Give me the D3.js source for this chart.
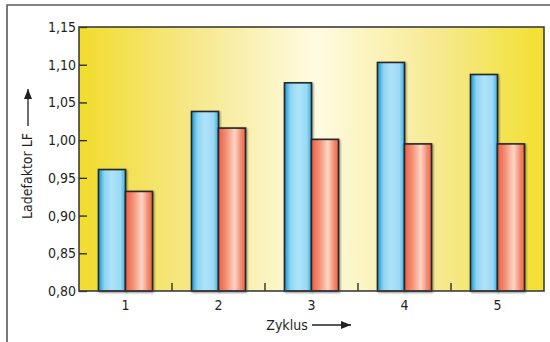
<!DOCTYPE html>
<html>
<head>
<meta charset="utf-8">
<script src="https://cdn.jsdelivr.net/npm/d3@7"></script>
<style>
  html, body { margin: 0; padding: 0; background: #fff; }
  svg text { font-family: "Liberation Sans Narrow", "DejaVu Sans", sans-serif; font-stretch: condensed; fill: #231f20; }
</style>
</head>
<body>
<div id="viz"></div>
<script>
// values
var zyklen = ["1", "2", "3", "4", "5"];
var serien = ["a", "b"];
var werteA = [0.961, 1.038, 1.076, 1.103, 1.087];
var werteB = [0.932, 1.016, 1.001, 0.995, 0.995];
var yTicks = [0.80, 0.85, 0.90, 0.95, 1.00, 1.05, 1.10, 1.15];

var W = 550, H = 342;
var pLeft = 79, pRight = 544, pTop = 27, pBottom = 291;

var de = d3.formatLocale({decimal: ",", thousands: ".", grouping: [3], currency: ["", " €"]});
var fmt = de.format(".2f");

var svg = d3.select("#viz").append("svg")
  .attr("width", W)
  .attr("height", H);

var defs = svg.append("defs");

// background of plot: yellow at the edges, pale in the middle
var bg = defs.append("linearGradient").attr("id", "bg");
bg.append("stop").attr("offset", "0%").attr("stop-color", "#f2dc2c");
bg.append("stop").attr("offset", "25%").attr("stop-color", "#f6e88c");
bg.append("stop").attr("offset", "51%").attr("stop-color", "#fffbe2");
bg.append("stop").attr("offset", "78%").attr("stop-color", "#f6e98e");
bg.append("stop").attr("offset", "100%").attr("stop-color", "#f2e02e");

var gA = defs.append("linearGradient").attr("id", "gA");
gA.append("stop").attr("offset", "0%").attr("stop-color", "#1a95d3");
gA.append("stop").attr("offset", "22%").attr("stop-color", "#8fd5f3");
gA.append("stop").attr("offset", "50%").attr("stop-color", "#ade3f8");
gA.append("stop").attr("offset", "82%").attr("stop-color", "#9bd9f5");
gA.append("stop").attr("offset", "100%").attr("stop-color", "#3aaee2");

var gB = defs.append("linearGradient").attr("id", "gB");
gB.append("stop").attr("offset", "0%").attr("stop-color", "#ec5f45");
gB.append("stop").attr("offset", "30%").attr("stop-color", "#f39378");
gB.append("stop").attr("offset", "60%").attr("stop-color", "#fdd6c6");
gB.append("stop").attr("offset", "85%").attr("stop-color", "#f2876d");
gB.append("stop").attr("offset", "100%").attr("stop-color", "#ec6449");

var shadow = defs.append("filter").attr("id", "sh")
  .attr("x", "-20%").attr("y", "-20%").attr("width", "140%").attr("height", "140%");
shadow.append("feGaussianBlur").attr("in", "SourceAlpha").attr("stdDeviation", 0.8).attr("result", "b");
shadow.append("feOffset").attr("in", "b").attr("dx", 0.5).attr("dy", 0.5).attr("result", "o");
shadow.append("feComponentTransfer").attr("in", "o").attr("result", "o2")
  .append("feFuncA").attr("type", "linear").attr("slope", 0.45);
var mg = shadow.append("feMerge");
mg.append("feMergeNode").attr("in", "o2");
mg.append("feMergeNode").attr("in", "SourceGraphic");

var gray = "#5a5a5a";

// outer frame (top and left only)
svg.append("path")
  .attr("d", "M7," + H + "V5H" + W)
  .attr("fill", "none")
  .attr("stroke", gray)
  .attr("stroke-width", 1.6);

var x = d3.scaleBand().domain(zyklen).range([pLeft, pRight]);
var y = d3.scaleLinear().domain([0.80, 1.15]).range([pBottom, pTop]);
var bw = x.bandwidth();
var x1 = d3.scaleBand().domain(serien).range([bw / 2 - 27, bw / 2 + 27]);

svg.append("rect")
  .attr("x", pLeft).attr("y", pTop)
  .attr("width", pRight - pLeft).attr("height", pBottom - pTop)
  .attr("fill", "url(#bg)");

var data = zyklen.map(function (z, i) {
  return {z: z, werte: [{s: "a", v: werteA[i]}, {s: "b", v: werteB[i]}]};
});

var groups = svg.append("g").selectAll("g")
  .data(data)
  .join("g")
  .attr("transform", function (d) { return "translate(" + x(d.z) + ",0)"; });

groups.selectAll("rect")
  .data(function (d) { return d.werte; })
  .join("rect")
  .attr("x", function (d) { return x1(d.s); })
  .attr("y", function (d) { return y(d.v); })
  .attr("width", x1.bandwidth())
  .attr("height", function (d) { return pBottom - y(d.v); })
  .attr("fill", function (d) { return d.s == "a" ? "url(#gA)" : "url(#gB)"; })
  .attr("stroke", "#262626")
  .attr("stroke-width", 1.6)
  .attr("filter", "url(#sh)");

// y axis, ticks pointing inward
var yAxis = svg.append("g")
  .attr("transform", "translate(" + pLeft + ",0)")
  .call(d3.axisLeft(y).tickValues(yTicks).tickSize(-8).tickPadding(3).tickFormat(fmt));
yAxis.select(".domain").remove();
yAxis.selectAll("line").attr("stroke", "#231f20").attr("stroke-width", 1.3);
yAxis.selectAll("text").style("font-size", "14px").attr("fill", "#231f20");

// x axis labels under group centres
var xAxis = svg.append("g")
  .attr("transform", "translate(0," + pBottom + ")")
  .call(d3.axisBottom(x).tickSize(0).tickPadding(9));
xAxis.select(".domain").remove();
xAxis.selectAll("text").style("font-size", "14px").attr("fill", "#231f20");

// small ticks between groups
svg.append("g").selectAll("line")
  .data(zyklen.slice(1))
  .join("line")
  .attr("x1", function (d) { return x(d); })
  .attr("x2", function (d) { return x(d); })
  .attr("y1", pBottom)
  .attr("y2", pBottom - 8)
  .attr("stroke", "#231f20")
  .attr("stroke-width", 1.3);

// frame of plot
svg.append("rect")
  .attr("x", pLeft).attr("y", pTop)
  .attr("width", pRight - pLeft).attr("height", pBottom - pTop)
  .attr("fill", "none")
  .attr("stroke", "#3c3c3c")
  .attr("stroke-width", 1.6);

// axis titles with arrows
svg.append("text")
  .attr("transform", "translate(32,176) rotate(-90)")
  .attr("text-anchor", "middle")
  .style("font-size", "14px")
  .text("Ladefaktor LF");

function pfeil(x0, y0, x1_, y1_) {
  svg.append("line")
    .attr("x1", x0).attr("y1", y0).attr("x2", x1_).attr("y2", y1_)
    .attr("stroke", "#231f20").attr("stroke-width", 1.3);
  var ang = Math.atan2(y1_ - y0, x1_ - x0) * 180 / Math.PI;
  svg.append("path")
    .attr("d", "M0,0L-10,-4L-10,4Z")
    .attr("fill", "#231f20")
    .attr("transform", "translate(" + x1_ + "," + y1_ + ") rotate(" + ang + ")");
}
pfeil(28, 126, 28, 89);

svg.append("text")
  .attr("x", 287)
  .attr("y", 330)
  .attr("text-anchor", "middle")
  .style("font-size", "14px")
  .text("Zyklus");
pfeil(312, 325, 351, 325);
</script>
</body>
</html>
